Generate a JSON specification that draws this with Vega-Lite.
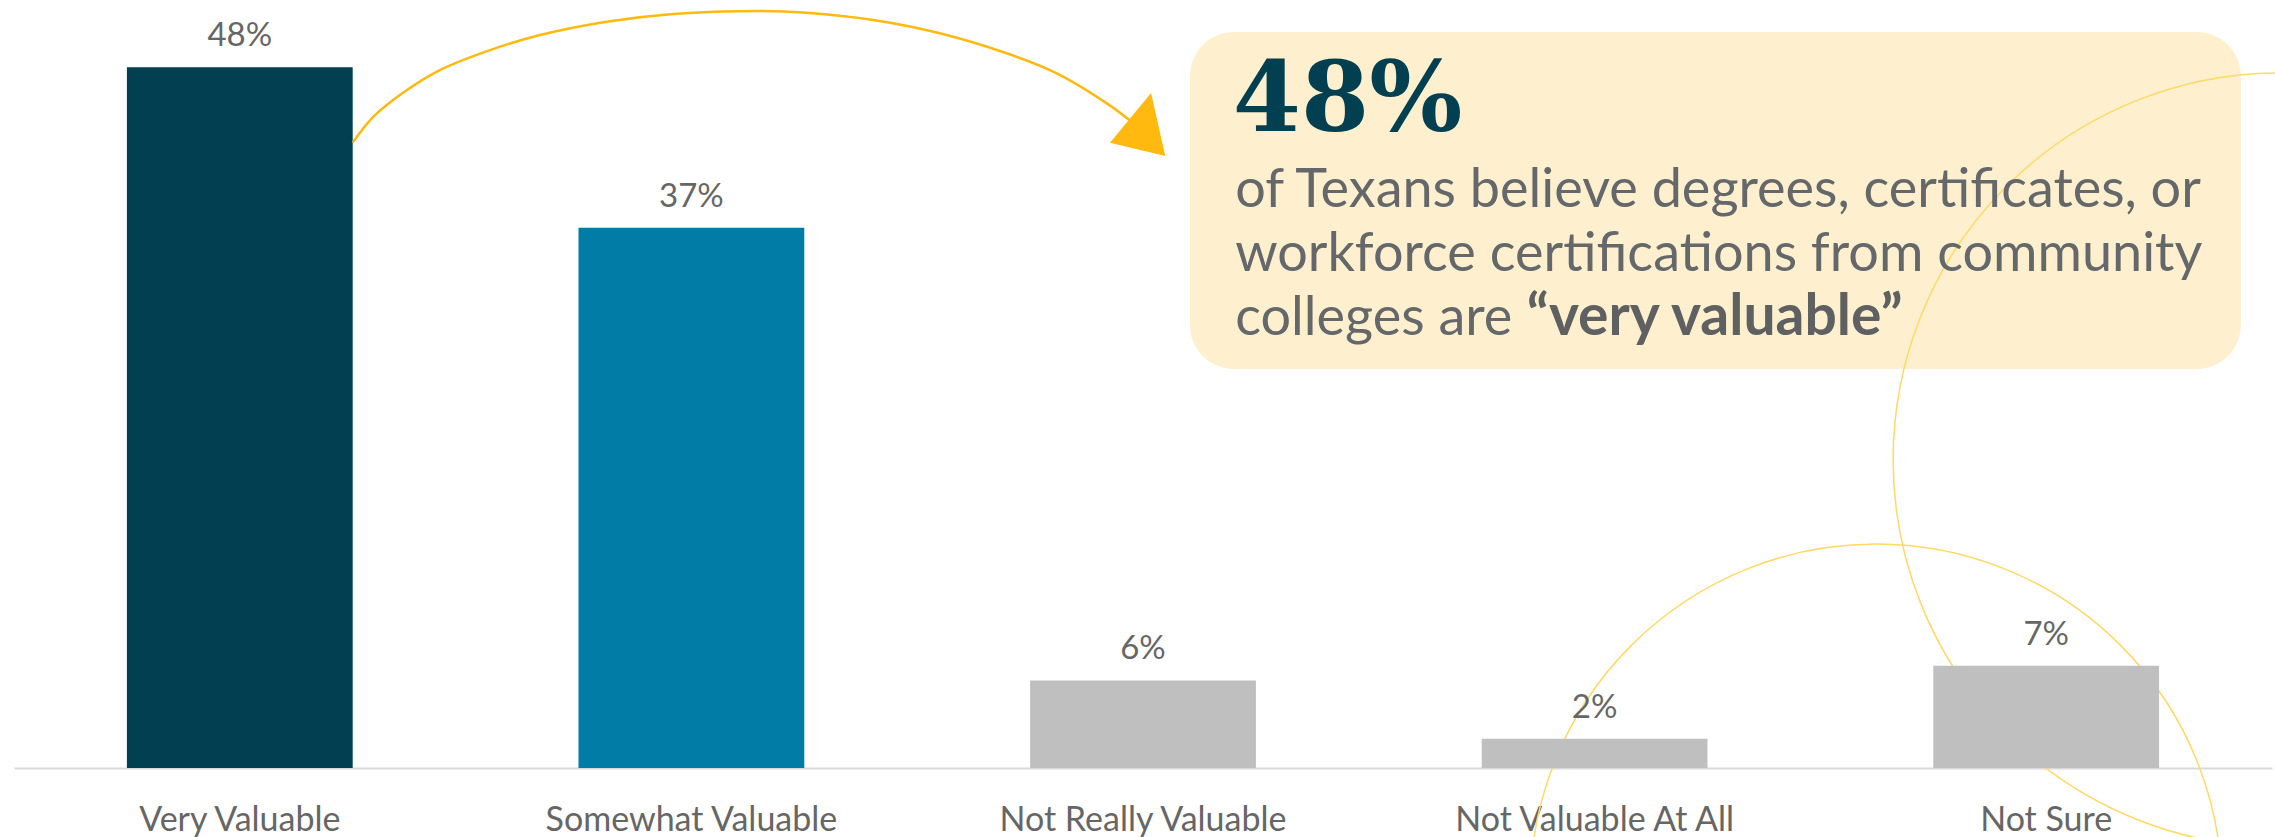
{
  "$schema": "https://vega.github.io/schema/vega-lite/v6.json",
  "autosize": {"type": "none"},
  "width": 2258,
  "height": 768,
  "padding": {"left": 14, "top": 0, "right": 3, "bottom": 69},
  "background": "white",
  "config": {"view": {"stroke": null}},
  "resolve": {"scale": {"x": "independent"}},
  "datasets": {
    "bars": [
      {"cat": "Very Valuable", "value": 48},
      {"cat": "Somewhat Valuable", "value": 37},
      {"cat": "Not Really Valuable", "value": 6},
      {"cat": "Not Valuable At All", "value": 2},
      {"cat": "Not Sure", "value": 7}
    ],
    "box": [{"x1": 2.604, "x2": 4.931, "y1": 27.33, "y2": 50.41}],
    "circleA": [{"cx": 5.018, "cy": 21.1}],
    "circleB": [{"cx": 4.123, "cy": -8.36}],
    "arrow": [
      {"o": 1, "ax": 0.750, "ay": 42.83},
      {"o": 2, "ax": 0.796, "ay": 44.61},
      {"o": 3, "ax": 0.870, "ay": 46.43},
      {"o": 4, "ax": 0.943, "ay": 47.80},
      {"o": 5, "ax": 1.054, "ay": 49.17},
      {"o": 6, "ax": 1.165, "ay": 50.20},
      {"o": 7, "ax": 1.312, "ay": 51.11},
      {"o": 8, "ax": 1.460, "ay": 51.64},
      {"o": 9, "ax": 1.652, "ay": 51.85},
      {"o": 10, "ax": 1.755, "ay": 51.73},
      {"o": 11, "ax": 1.903, "ay": 51.23},
      {"o": 12, "ax": 2.050, "ay": 50.32},
      {"o": 13, "ax": 2.198, "ay": 48.95},
      {"o": 14, "ax": 2.309, "ay": 47.58},
      {"o": 15, "ax": 2.420, "ay": 45.52},
      {"o": 16, "ax": 2.475, "ay": 44.26}
    ],
    "head": [{"ax": 2.503, "ay": 44.3}],
    "big": [{"ax": 2.699, "ay": 43.63, "t": "48%"}],
    "body": [
      {"ax": 2.704, "ay": 38.42, "t": "of Texans believe degrees, certificates, or"},
      {"ax": 2.704, "ay": 34.04, "t": "workforce certifications from community"},
      {"ax": 2.704, "ay": 29.66, "t": "colleges are"}
    ],
    "bold": [{"ax": 3.35, "ay": 29.66, "t": "“very valuable”"}]
  },
  "layer": [
    {
      "data": {"name": "box"},
      "mark": {"type": "rect", "color": "#FEF0CE", "cornerRadius": 44},
      "encoding": {
        "x": {"field": "x1", "type": "quantitative", "scale": {"domain": [0, 5], "nice": false, "zero": false}, "axis": null},
        "x2": {"field": "x2"},
        "y": {"field": "y1", "type": "quantitative", "scale": {"domain": [0, 52.6], "nice": false, "zero": false}, "axis": null},
        "y2": {"field": "y2"}
      }
    },
    {
      "data": {"name": "circleA"},
      "mark": {"type": "point", "shape": "circle", "filled": false, "stroke": "#FFD966", "strokeWidth": 1.5, "opacity": 1, "size": 599076},
      "encoding": {
        "x": {"field": "cx", "type": "quantitative", "scale": {"domain": [0, 5], "nice": false, "zero": false}, "axis": null},
        "y": {"field": "cy", "type": "quantitative", "scale": {"domain": [0, 52.6], "nice": false, "zero": false}, "axis": null}
      }
    },
    {
      "data": {"name": "circleB"},
      "mark": {"type": "point", "shape": "circle", "filled": false, "stroke": "#FFD966", "strokeWidth": 1.5, "opacity": 1, "size": 478864},
      "encoding": {
        "x": {"field": "cx", "type": "quantitative", "scale": {"domain": [0, 5], "nice": false, "zero": false}, "axis": null},
        "y": {"field": "cy", "type": "quantitative", "scale": {"domain": [0, 52.6], "nice": false, "zero": false}, "axis": null}
      }
    },
    {
      "data": {"name": "bars"},
      "mark": {"type": "bar"},
      "encoding": {
        "x": {
          "field": "cat", "type": "nominal", "sort": ["Very Valuable", "Somewhat Valuable", "Not Really Valuable", "Not Valuable At All", "Not Sure"],
          "scale": {"paddingInner": 0.5, "paddingOuter": 0.25},
          "axis": {
            "title": null, "labelAngle": 0, "ticks": false, "tickSize": 0,
            "domainColor": "#D9D9D9", "domainWidth": 2,
            "labelFont": "Lato", "labelFontSize": 34, "labelColor": "#666666",
            "labelBaseline": "alphabetic", "labelPadding": 62, "labelLimit": 1000
          }
        },
        "y": {"field": "value", "type": "quantitative", "scale": {"domain": [0, 52.6], "nice": false, "zero": false}, "axis": null},
        "color": {
          "field": "cat", "type": "nominal", "legend": null,
          "scale": {
            "domain": ["Very Valuable", "Somewhat Valuable", "Not Really Valuable", "Not Valuable At All", "Not Sure"],
            "range": ["#013F51", "#007CA7", "#BFBFBF", "#BFBFBF", "#BFBFBF"]
          }
        }
      }
    },
    {
      "data": {"name": "bars"},
      "transform": [{"calculate": "datum.value + '%'", "as": "label"}],
      "mark": {"type": "text", "font": "Lato", "fontSize": 33, "color": "#666666", "align": "center", "baseline": "alphabetic", "dy": -21},
      "encoding": {
        "x": {
          "field": "cat", "type": "nominal", "sort": ["Very Valuable", "Somewhat Valuable", "Not Really Valuable", "Not Valuable At All", "Not Sure"],
          "scale": {"paddingInner": 0.5, "paddingOuter": 0.25},
          "axis": null
        },
        "y": {"field": "value", "type": "quantitative", "scale": {"domain": [0, 52.6], "nice": false, "zero": false}, "axis": null},
        "text": {"field": "label", "type": "nominal"}
      }
    },
    {
      "data": {"name": "arrow"},
      "mark": {"type": "line", "color": "#FFB90F", "strokeWidth": 2.5, "interpolate": "catmull-rom"},
      "encoding": {
        "x": {"field": "ax", "type": "quantitative", "scale": {"domain": [0, 5], "nice": false, "zero": false}, "axis": null},
        "y": {"field": "ay", "type": "quantitative", "scale": {"domain": [0, 52.6], "nice": false, "zero": false}, "axis": null},
        "order": {"field": "o", "type": "quantitative"}
      }
    },
    {
      "data": {"name": "head"},
      "mark": {"type": "point", "shape": "M0,-1L-0.98,1L0.98,1Z", "filled": true, "color": "#FFB90F", "opacity": 1, "size": 3364, "angle": 13.4, "strokeWidth": 0},
      "encoding": {
        "x": {"field": "ax", "type": "quantitative", "scale": {"domain": [0, 5], "nice": false, "zero": false}, "axis": null},
        "y": {"field": "ay", "type": "quantitative", "scale": {"domain": [0, 52.6], "nice": false, "zero": false}, "axis": null}
      }
    },
    {
      "data": {"name": "big"},
      "mark": {"type": "text", "font": "DejaVu Serif", "fontWeight": "bold", "fontSize": 98, "color": "#013F51", "align": "left", "baseline": "alphabetic"},
      "encoding": {
        "x": {"field": "ax", "type": "quantitative", "scale": {"domain": [0, 5], "nice": false, "zero": false}, "axis": null},
        "y": {"field": "ay", "type": "quantitative", "scale": {"domain": [0, 52.6], "nice": false, "zero": false}, "axis": null},
        "text": {"field": "t", "type": "nominal"}
      }
    },
    {
      "data": {"name": "body"},
      "mark": {"type": "text", "font": "Lato", "fontSize": 54, "color": "#65686A", "align": "left", "baseline": "alphabetic"},
      "encoding": {
        "x": {"field": "ax", "type": "quantitative", "scale": {"domain": [0, 5], "nice": false, "zero": false}, "axis": null},
        "y": {"field": "ay", "type": "quantitative", "scale": {"domain": [0, 52.6], "nice": false, "zero": false}, "axis": null},
        "text": {"field": "t", "type": "nominal"}
      }
    },
    {
      "data": {"name": "bold"},
      "mark": {"type": "text", "font": "Lato", "fontWeight": "bold", "fontSize": 57, "color": "#5E6062", "align": "left", "baseline": "alphabetic"},
      "encoding": {
        "x": {"field": "ax", "type": "quantitative", "scale": {"domain": [0, 5], "nice": false, "zero": false}, "axis": null},
        "y": {"field": "ay", "type": "quantitative", "scale": {"domain": [0, 52.6], "nice": false, "zero": false}, "axis": null},
        "text": {"field": "t", "type": "nominal"}
      }
    }
  ]
}
